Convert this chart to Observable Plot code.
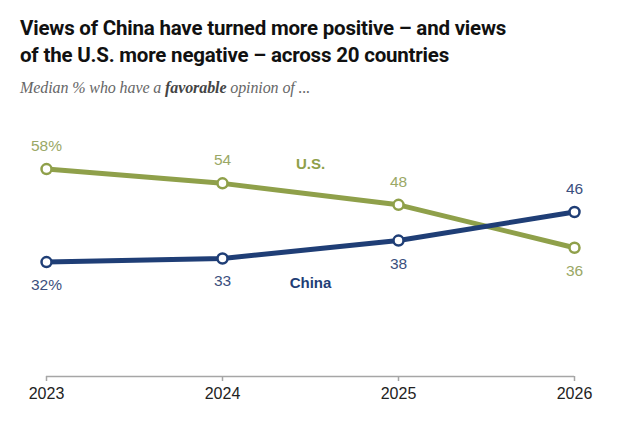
<!DOCTYPE html>
<html>
<head>
<meta charset="utf-8">
<script src="https://cdn.jsdelivr.net/npm/d3@7"></script>
<script src="https://cdn.jsdelivr.net/npm/@observablehq/plot@0.6"></script>
<style>
  html, body { margin: 0; padding: 0; background: #fff; }
  #header { height: 100px; padding: 0 0 0 20px; box-sizing: border-box; }
  h1 { margin: 0; padding-top: 15px; font-family: "Liberation Sans Narrow", "Roboto", sans-serif; font-weight: bold; font-size: 20.5px; line-height: 27px; letter-spacing: -0.2px; color: #111; }
  .sub { margin-top: 8.6px; font-family: "Liberation Serif", serif; font-style: italic; font-size: 16px; line-height: 20px; color: #666; letter-spacing: -0.1px; }
  .sub b { color: #444; }
</style>
</head>
<body>
<div id="header">
  <h1>Views of China have turned more positive – and views<br>of the U.S. more negative – across 20 countries</h1>
  <div class="sub">Median % who have a <b>favorable</b> opinion of ...</div>
</div>
<div id="chart"></div>
<script>
const years = [2023, 2024, 2025, 2026];
const usValues = [58, 54, 48, 36];
const chinaValues = [32, 33, 38, 46];
const seriesNames = ["U.S.", "China"];

const usColor = "#8fa04a";
const chinaColor = "#1f3e76";
const usText = "#9aa866";
const chinaText = "#3b4f7e";

const us = years.map((year, i) => ({year, value: usValues[i], label: i === 0 ? usValues[i] + "%" : String(usValues[i]), above: i < years.length - 1}));
const china = years.map((year, i) => ({year, value: chinaValues[i], label: i === 0 ? chinaValues[i] + "%" : String(chinaValues[i]), above: i === years.length - 1}));

const font = "Liberation Sans, Arial, sans-serif";

const plot = Plot.plot({
  width: 640,
  height: 325,
  marginLeft: 46,
  marginRight: 66,
  marginTop: 61.4,
  marginBottom: 49,
  style: {fontFamily: font, background: "#fff"},
  x: {domain: [2023, 2026]},
  y: {domain: [0, 60], axis: null},
  marks: [
    Plot.ruleY([0], {x1: 2023, x2: 2026, stroke: "#a6a6a6", strokeWidth: 1.5}),
    Plot.axisX({ticks: years, tickFormat: "d", tickSize: 5, tickPadding: 6, stroke: "#a6a6a6", fill: "#222", fontSize: 16, label: null, strokeWidth: 1.5}),
    Plot.line(us, {x: "year", y: "value", stroke: usColor, strokeWidth: 5}),
    Plot.line(china, {x: "year", y: "value", stroke: chinaColor, strokeWidth: 5}),
    Plot.dot(us, {x: "year", y: "value", r: 5, fill: "#fff", stroke: usColor, strokeWidth: 2.5}),
    Plot.dot(china, {x: "year", y: "value", r: 5, fill: "#fff", stroke: chinaColor, strokeWidth: 2.5}),
    Plot.text(us.filter(d => d.above), {x: "year", y: "value", text: "label", dy: -23, fill: usText, fontSize: 15.5}),
    Plot.text(us.filter(d => !d.above), {x: "year", y: "value", text: "label", dy: 23, fill: usText, fontSize: 15.5}),
    Plot.text(china.filter(d => d.above), {x: "year", y: "value", text: "label", dy: -23, fill: chinaText, fontSize: 15.5}),
    Plot.text(china.filter(d => !d.above), {x: "year", y: "value", text: "label", dy: 23, fill: chinaText, fontSize: 15.5}),
    Plot.text([seriesNames[0]], {x: 2024.5, y: 59.5, text: d => d, fill: usColor, fontSize: 15, fontWeight: "bold"}),
    Plot.text([seriesNames[1]], {x: 2024.5, y: 26.2, text: d => d, fill: chinaColor, fontSize: 15, fontWeight: "bold"})
  ]
});
document.getElementById("chart").appendChild(plot);
</script>
</body>
</html>
